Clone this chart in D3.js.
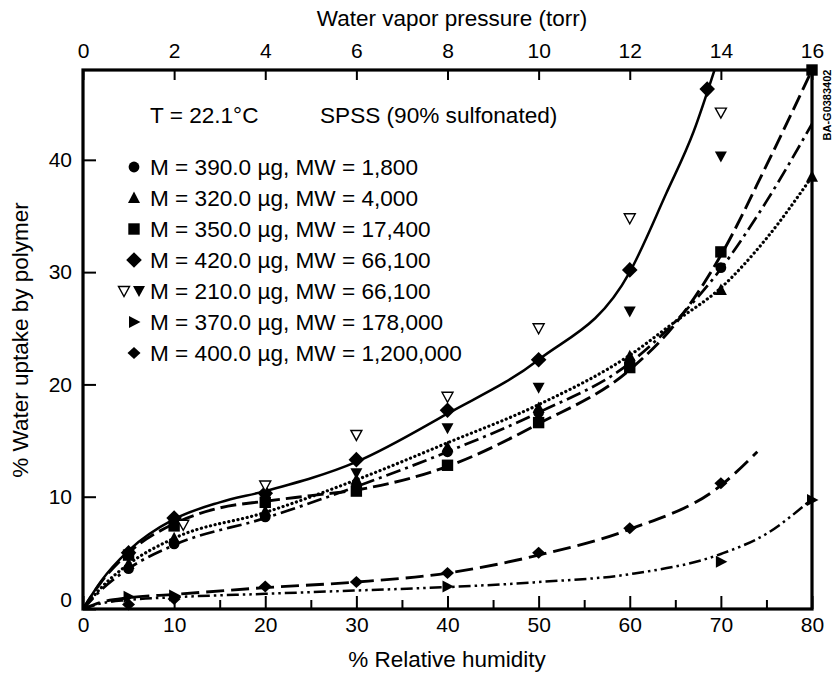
<!DOCTYPE html>
<html><head><meta charset="utf-8">
<script src="https://cdn.jsdelivr.net/npm/d3@7"></script>
<style>
body{margin:0;background:#fff}
text{font-family:"Liberation Sans",Arial,Helvetica,sans-serif;fill:#000}
</style>
</head><body>
<svg id="chart" width="832" height="673"></svg>
<script>
// ---------- tick labels ----------
const rhTicks = [0,10,20,30,40,50,60,70,80];
const rhMinorTicks = [5,15,25,35,45,55,65,75];
const torrTicks = [0,2,4,6,8,10,12,14,16];
const uptakeTicks = [0,10,20,30,40];

// ---------- legend ----------
const legendLabels = [
  "M = 390.0 \u00b5g, MW = 1,800",
  "M = 320.0 \u00b5g, MW = 4,000",
  "M = 350.0 \u00b5g, MW = 17,400",
  "M = 420.0 \u00b5g, MW = 66,100",
  "M = 210.0 \u00b5g, MW = 66,100",
  "M = 370.0 \u00b5g, MW = 178,000",
  "M = 400.0 \u00b5g, MW = 1,200,000"
];
const legendMarkers = [["circle"],["triUp"],["square"],["diamond"],["triDownOpen","triDown"],["triRight"],["diamondSmall"]];

// ---------- measured points (% RH, % uptake) ----------
const circRH = [5,10,20,30,40,50,60,70];
const circVal = [3.6,5.8,8.2,10.9,14.0,17.5,22.0,30.4];

const triRH = [5,10,20,30,40,50,60,70,80];
const triVal = [4.0,6.3,8.7,11.5,14.4,17.9,22.5,28.4,38.5];

const sqRH = [5,10,20,30,40,50,60,70,80];
const sqVal = [4.8,7.4,9.5,10.5,12.8,16.6,21.5,31.8,48.0];

const diaRH = [5,10,20,30,40,50,60,68.5];
const diaVal = [5.0,8.1,10.3,13.3,17.7,22.2,30.2,46.3];

const openRH = [11,20,30,40,50,60,70];
const openVal = [7.5,11.0,15.5,18.9,25.0,34.8,44.2];

const fillRH = [20,30,40,50,60,70];
const fillVal = [9.8,12.1,16.1,19.7,26.5,40.3];

const rtRH = [5,10,40,70,80];
const rtVal = [1.1,1.2,2.0,4.2,9.7];

const sdRH = [5,10,20,30,40,50,60,70];
const sdVal = [0.4,0.9,2.0,2.4,3.2,5.0,7.2,11.2];

// ---------- fitted curves ----------
const circFitRH = [0,2,5,10,20,30,40,50,60,65,70,75,80];
const circFitVal = [0,1.7,3.6,5.7,8.1,10.9,14.0,17.5,21.9,25.6,30.3,36.3,43.2];

const triFitRH = [0,2,5,10,20,30,40,50,60,65,70,75,80];
const triFitVal = [0,1.9,4.0,6.3,8.6,11.5,14.8,18.2,22.6,25.6,28.6,33.0,38.5];

const sqFitRH = [0,2,5,10,15,20,25,30,40,50,60,65,70,75,80];
const sqFitVal = [0,2.4,5.0,7.6,9.0,9.6,10.1,10.6,12.7,16.5,21.3,25.4,31.5,39.5,48.0];

const diaFitRH = [0,2,5,10,15,20,30,40,50,60,64,67,69.3];
const diaFitVal = [0,2.5,5.2,8.0,9.5,10.5,13.1,17.4,22.2,30.0,37.0,42.5,48.0];

const rtFitRH = [0,2,5,10,20,30,40,50,60,70,75,80];
const rtFitVal = [0,0.5,0.8,1.05,1.35,1.65,1.95,2.4,3.1,4.9,6.7,9.8];

const sdFitRH = [0,2,5,10,20,30,40,50,60,70,74];
const sdFitVal = [0,0.6,1.0,1.3,1.9,2.4,3.2,4.8,7.1,11.0,14.0];

// ---------- chart ----------
const svg = d3.select("#chart");
const x = d3.scaleLinear().domain([0,80]).range([83,812]);
const xt = d3.scaleLinear().domain([0,16]).range([83,812]);
const y = d3.scaleLinear().domain([0,48]).range([609,70]);

const zip = (a,b)=>a.map((v,i)=>[v,b[i]]);
const line = d3.line().x(d=>x(d[0])).y(d=>y(d[1])).curve(d3.curveMonotoneX);

// axes
const fs = 21;
const gB = svg.append("g").attr("transform",`translate(0,${y(0)})`)
  .call(d3.axisBottom(x).tickValues(rhTicks).tickSize(-13).tickPadding(8));
const gBm = svg.append("g").attr("transform",`translate(0,${y(0)})`)
  .call(d3.axisBottom(x).tickValues(rhMinorTicks).tickSize(-9).tickFormat(""));
const gT = svg.append("g").attr("transform",`translate(0,${y(48)})`)
  .call(d3.axisTop(xt).tickValues(torrTicks).tickSize(-10).tickPadding(12));
const gL = svg.append("g").attr("transform",`translate(${x(0)},0)`)
  .call(d3.axisLeft(y).tickValues(uptakeTicks).tickSize(-13).tickPadding(11));
[gB,gBm,gT,gL].forEach(g=>{
  g.select(".domain").remove();
  g.selectAll(".tick line").attr("stroke","#000").attr("stroke-width",2);
  g.selectAll(".tick text").attr("font-size",fs).attr("fill","#000")
    .style("font-family","'Liberation Sans',Arial,sans-serif");
});
gL.selectAll(".tick").filter(d=>d===0).select("text").attr("dy","-0.1em");

// frame
svg.append("rect").attr("x",x(0)).attr("y",y(48))
  .attr("width",x(80)-x(0)).attr("height",y(0)-y(48))
  .attr("fill","none").attr("stroke","#000").attr("stroke-width",3.2);

// axis titles
svg.append("text").attr("x",452).attr("y",26).attr("text-anchor","middle")
  .attr("font-size",22.5).text("Water vapor pressure (torr)");
svg.append("text").attr("x",447).attr("y",667).attr("text-anchor","middle")
  .attr("font-size",22.5).text("% Relative humidity");
svg.append("text").attr("transform","translate(28,340) rotate(-90)").attr("text-anchor","middle")
  .attr("font-size",22.5).text("% Water uptake by polymer");
svg.append("text").attr("transform","translate(831,105) rotate(-90)").attr("text-anchor","middle")
  .attr("font-size",11).attr("font-weight","bold").text("BA-G0383402");

// curves
const curves = [
  {d:zip(circFitRH,circFitVal), dash:"15,5,3,5", w:2.7},
  {d:zip(triFitRH,triFitVal), dash:"0.1,4.6", w:3.2, cap:"round"},
  {d:zip(sqFitRH,sqFitVal), dash:"16,6", w:2.9},
  {d:zip(diaFitRH,diaFitVal), dash:null, w:2.5},
  {d:zip(rtFitRH,rtFitVal), dash:"12,4,2.5,4,2.5,4", w:2.5},
  {d:zip(sdFitRH,sdFitVal), dash:"18,7", w:2.9}
];
svg.append("clipPath").attr("id","pc").append("rect")
  .attr("x",x(0)).attr("y",y(48)).attr("width",x(80)-x(0)).attr("height",y(0)-y(48));
svg.append("g").attr("clip-path","url(#pc)").selectAll("path.c").data(curves).join("path")
  .attr("class","c").attr("d",c=>line(c.d)).attr("fill","none").attr("stroke","#000")
  .attr("stroke-width",c=>c.w).attr("stroke-dasharray",c=>c.dash)
  .attr("stroke-linecap",c=>c.cap||"butt");

// markers
function marker(g, type, cx, cy){
  const s = {
    circle: ()=>g.append("circle").attr("cx",cx).attr("cy",cy).attr("r",5.4),
    square: ()=>g.append("rect").attr("x",cx-5.7).attr("y",cy-5.7).attr("width",11.4).attr("height",11.4),
    diamond: ()=>g.append("path").attr("d",`M${cx},${cy-7.8}L${cx+7.8},${cy}L${cx},${cy+7.8}L${cx-7.8},${cy}Z`),
    diamondSmall: ()=>g.append("path").attr("d",`M${cx},${cy-6}L${cx+6.5},${cy}L${cx},${cy+6}L${cx-6.5},${cy}Z`),
    triUp: ()=>g.append("path").attr("d",`M${cx},${cy-6.5}L${cx+6},${cy+5}L${cx-6},${cy+5}Z`),
    triDown: ()=>g.append("path").attr("d",`M${cx-6},${cy-5}L${cx+6},${cy-5}L${cx},${cy+6}Z`),
    triDownOpen: ()=>g.append("path").attr("d",`M${cx-5.5},${cy-4.5}L${cx+5.5},${cy-4.5}L${cx},${cy+5.5}Z`)
        .attr("fill","#fff").attr("stroke","#000").attr("stroke-width",1.4),
    triRight: ()=>g.append("path").attr("d",`M${cx-5},${cy-6}L${cx+6.5},${cy}L${cx-5},${cy+6}Z`)
  }[type]();
  if(type!=="triDownOpen") s.attr("fill","#000");
}
const pts = svg.append("g");
const sets = [
  ["circle",circRH,circVal],["triUp",triRH,triVal],["square",sqRH,sqVal],
  ["diamond",diaRH,diaVal],["triDownOpen",openRH,openVal],["triDown",fillRH,fillVal],
  ["triRight",rtRH,rtVal],["diamondSmall",sdRH,sdVal]
];
sets.forEach(([t,xs,vs])=>xs.forEach((xv,i)=>marker(pts,t,x(xv),y(vs[i]))));

// legend
const lfs = 22.6;
svg.append("text").attr("x",150).attr("y",123).attr("font-size",lfs).text("T = 22.1\u00b0C");
svg.append("text").attr("x",320).attr("y",123).attr("font-size",lfs).text("SPSS (90% sulfonated)");
const lg = svg.append("g");
legendLabels.forEach((lab,i)=>{
  const cy = 167 + i*31;
  const ms = legendMarkers[i];
  if(ms.length===1) marker(lg, ms[0], 134, cy);
  else { marker(lg, ms[0], 124, cy); marker(lg, ms[1], 139, cy); }
  lg.append("text").attr("x",150).attr("y",cy+8).attr("font-size",lfs).text(lab);
});
</script>
</body></html>
